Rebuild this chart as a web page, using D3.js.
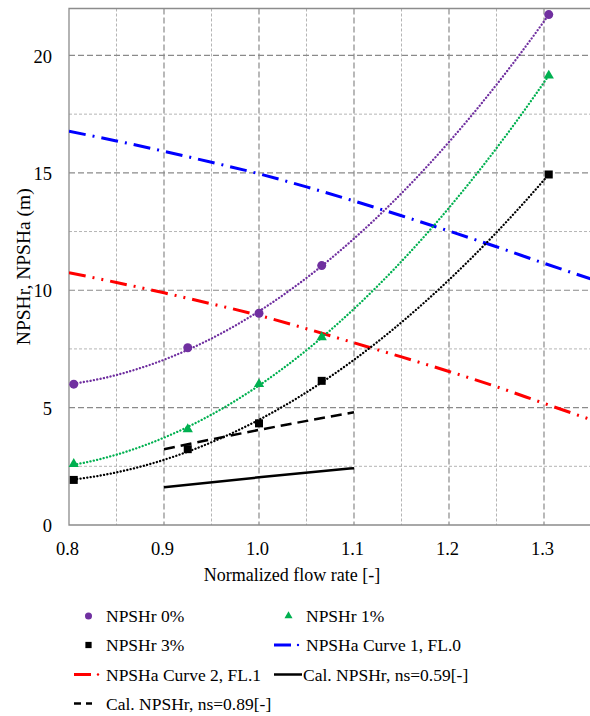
<!DOCTYPE html>
<html>
<head>
<meta charset="utf-8">
<script src="https://cdn.jsdelivr.net/npm/d3@7"></script>
<style>
  body { margin: 0; background: #fff; }
  svg { display: block; }
  text { font-family: "Liberation Serif", "Times New Roman", serif; fill: #000; }
</style>
</head>
<body>
<svg id="chart" width="590" height="716"></svg>
<script>
// Measured NPSH required at the test flow rates (normalized by BEP flow)
const flowRate = [0.805, 0.925, 1.0, 1.066, 1.305];
const npshr0 = [6.0, 7.55, 9.02, 11.05, 21.74];
const npshr1 = [2.6, 4.08, 6.0, 8.0, 19.14];
const npshr3 = [1.92, 3.23, 4.33, 6.14, 14.93];

// Available NPSH of the two installation curves
const npshaFlow = [0.8, 0.85, 0.9, 0.95, 1.0, 1.05, 1.1, 1.15, 1.2, 1.25, 1.3, 1.35];
const npshaCurve1 = [16.77, 16.36, 15.92, 15.45, 14.96, 14.40, 13.80, 13.17, 12.52, 11.85, 11.15, 10.47];
const npshaCurve2 = [10.75, 10.33, 9.89, 9.42, 8.93, 8.36, 7.76, 7.16, 6.54, 5.89, 5.18, 4.48];

// Calculated NPSHr for two specific speeds
const calFlow = [0.9, 1.0, 1.1];
const calNs059 = [1.61, 2.03, 2.42];
const calNs089 = [3.23, 4.05, 4.80];

const xTicks = [0.8, 0.9, 1.0, 1.1, 1.2, 1.3];
const xMinorGrid = [0.85, 0.95, 1.05, 1.15, 1.25];
const yTicks = [0, 5, 10, 15, 20];
const yMinorGrid = [2.5, 7.5, 12.5, 17.5];

const svg = d3.select("#chart");
const plotL = 69, plotR = 591.5, plotT = 8.5, plotB = 525;

const x = d3.scaleLinear().domain([0.8, 1.35]).range([plotL, plotR]);
const y = d3.scaleLinear().domain([0, 22]).range([plotB, plotT]);

// clip for the plotting area
svg.append("defs").append("clipPath").attr("id", "plotClip")
  .append("rect").attr("x", plotL).attr("y", plotT - 4)
  .attr("width", plotR - plotL).attr("height", plotB - plotT + 4);

// grid
const grid = svg.append("g");
grid.selectAll(".vminor").data(xMinorGrid).join("line")
  .attr("x1", d => x(d)).attr("x2", d => x(d)).attr("y1", plotT).attr("y2", plotB)
  .attr("stroke", "#b5b5b5").attr("stroke-width", 1).attr("stroke-dasharray", "3,2");
grid.selectAll(".hminor").data(yMinorGrid).join("line")
  .attr("y1", d => y(d)).attr("y2", d => y(d)).attr("x1", plotL).attr("x2", plotR)
  .attr("stroke", "#b5b5b5").attr("stroke-width", 1).attr("stroke-dasharray", "3,2");
grid.selectAll(".vmajor").data(xTicks.slice(1)).join("line")
  .attr("x1", d => x(d)).attr("x2", d => x(d)).attr("y1", plotT).attr("y2", plotB)
  .attr("stroke", "#8a8a8a").attr("stroke-width", 1.2).attr("stroke-dasharray", "6,3");
grid.selectAll(".hmajor").data(yTicks.slice(1)).join("line")
  .attr("y1", d => y(d)).attr("y2", d => y(d)).attr("x1", plotL).attr("x2", plotR)
  .attr("stroke", "#8a8a8a").attr("stroke-width", 1.2).attr("stroke-dasharray", "6,3");

// plot frame (left, top, bottom)
svg.append("path")
  .attr("d", `M${plotR},${plotT}H${plotL}V${plotB}H${plotR}`)
  .attr("fill", "none").attr("stroke", "#8c8c8c").attr("stroke-width", 1.3);

// axes
const xAxis = svg.append("g").attr("transform", `translate(0,${plotB})`)
  .call(d3.axisBottom(x).tickValues(xTicks).tickFormat(d3.format(".1f")).tickSize(0).tickPadding(0));
xAxis.select(".domain").remove();
xAxis.selectAll("text").attr("y", 30).attr("dy", 0).attr("x", -2)
  .style("font-size", "18.5px").style("font-family", '"Liberation Serif", serif');

const yAxis = svg.append("g").attr("transform", `translate(${plotL},0)`)
  .call(d3.axisLeft(y).tickValues(yTicks).tickSize(0).tickPadding(17));
yAxis.select(".domain").remove();
yAxis.selectAll("text").attr("dy", "0.36em")
  .style("font-size", "18.5px").style("font-family", '"Liberation Serif", serif');

// axis titles
svg.append("text").attr("x", 292).attr("y", 581).attr("text-anchor", "middle")
  .style("font-size", "18px").text("Normalized flow rate [-]");
svg.append("text").attr("transform", `translate(30,${(plotT + plotB) / 2}) rotate(-90)`)
  .attr("text-anchor", "middle").style("font-size", "19.5px").text("NPSHr, NPSHa (m)");

// quadratic least-squares trendline through measured points
function polyFit2(xs, ys) {
  const s = [0, 0, 0, 0, 0], t = [0, 0, 0];
  xs.forEach((xv, i) => {
    for (let k = 0; k < 5; k++) s[k] += Math.pow(xv, k);
    for (let k = 0; k < 3; k++) t[k] += Math.pow(xv, k) * ys[i];
  });
  const A = [[s[0], s[1], s[2], t[0]], [s[1], s[2], s[3], t[1]], [s[2], s[3], s[4], t[2]]];
  for (let i = 0; i < 3; i++) {
    for (let j = i + 1; j < 3; j++) {
      const f = A[j][i] / A[i][i];
      for (let k = i; k < 4; k++) A[j][k] -= f * A[i][k];
    }
  }
  const c = [0, 0, 0];
  for (let i = 2; i >= 0; i--) {
    let v = A[i][3];
    for (let k = i + 1; k < 3; k++) v -= A[i][k] * c[k];
    c[i] = v / A[i][i];
  }
  return q => c[0] + c[1] * q + c[2] * q * q;
}

const plot = svg.append("g").attr("clip-path", "url(#plotClip)");
const line = d3.line().x(d => x(d[0])).y(d => y(d[1]));
const smooth = d3.line().x(d => x(d[0])).y(d => y(d[1])).curve(d3.curveMonotoneX);

// NPSHa curves
plot.append("path").datum(npshaFlow.map((q, i) => [q, npshaCurve1[i]]))
  .attr("d", smooth).attr("fill", "none").attr("stroke", "#0000ff")
  .attr("stroke-width", 3).attr("stroke-dasharray", "17,7,2,7");
plot.append("path").datum(npshaFlow.map((q, i) => [q, npshaCurve2[i]]))
  .attr("d", smooth).attr("fill", "none").attr("stroke", "#ff0000")
  .attr("stroke-width", 3).attr("stroke-dasharray", "17,7,2,7,2,7");

// calculated NPSHr
plot.append("path").datum(calFlow.map((q, i) => [q, calNs089[i]]))
  .attr("d", smooth).attr("fill", "none").attr("stroke", "#000")
  .attr("stroke-width", 2.5).attr("stroke-dasharray", "11,6");
plot.append("path").datum(calFlow.map((q, i) => [q, calNs059[i]]))
  .attr("d", smooth).attr("fill", "none").attr("stroke", "#000")
  .attr("stroke-width", 2.5);

// measured series with dotted trendlines
const series = [
  { values: npshr0, color: "#7030a0", shape: "circle" },
  { values: npshr1, color: "#00b050", shape: "triangle" },
  { values: npshr3, color: "#000000", shape: "square" }
];
const qRange = d3.extent(flowRate);
const qSamples = d3.range(0, 101).map(i => qRange[0] + (qRange[1] - qRange[0]) * i / 100);

series.forEach(s => {
  const fit = polyFit2(flowRate, s.values);
  plot.append("path").datum(qSamples.map(q => [q, fit(q)]))
    .attr("d", line).attr("fill", "none").attr("stroke", s.color)
    .attr("stroke-width", 2.3).attr("stroke-linecap", "round").attr("stroke-dasharray", "0.1,3.3");
});

function marker(g, shape, color, cx, cy, scale) {
  if (shape === "circle") {
    g.append("circle").attr("cx", cx).attr("cy", cy).attr("r", 4.5 * scale).attr("fill", color);
  } else if (shape === "square") {
    const a = 8 * scale;
    g.append("rect").attr("x", cx - a / 2).attr("y", cy - a / 2).attr("width", a).attr("height", a).attr("fill", color);
  } else {
    g.append("path").attr("transform", `translate(${cx},${cy})`)
      .attr("d", d3.symbol(d3.symbolTriangle, 46 * scale * scale)()).attr("fill", color);
  }
}

const markers = svg.append("g");
series.forEach(s => {
  flowRate.forEach((q, i) => marker(markers, s.shape, s.color, x(q), y(s.values[i]), 1));
});

// legend
const legend = svg.append("g");
const rowY = [616, 645, 674.5, 703.5];
const legendItems = [
  { label: "NPSHr 0%", col: 0, row: 0, kind: "marker", shape: "circle", color: "#7030a0" },
  { label: "NPSHr 1%", col: 1, row: 0, kind: "marker", shape: "triangle", color: "#00b050" },
  { label: "NPSHr 3%", col: 0, row: 1, kind: "marker", shape: "square", color: "#000000" },
  { label: "NPSHa Curve 1, FL.0", col: 1, row: 1, kind: "dashdot", color: "#0000ff" },
  { label: "NPSHa Curve 2, FL.1", col: 0, row: 2, kind: "dashdot", color: "#ff0000" },
  { label: "Cal. NPSHr, ns=0.59[-]", col: 1, row: 2, kind: "solid", color: "#000000" },
  { label: "Cal. NPSHr, ns=0.89[-]", col: 0, row: 3, kind: "dash", color: "#000000" }
];
const colSym = [74, 274];
const colText = [106, 306];

legendItems.forEach(it => {
  const cy = rowY[it.row];
  const x0 = colSym[it.col];
  let tx = colText[it.col];
  if (it.kind === "marker") {
    marker(legend, it.shape, it.color, x0 + 14.5, cy, 0.78);
  } else if (it.kind === "dashdot") {
    legend.append("line").attr("x1", x0).attr("x2", x0 + 17).attr("y1", cy).attr("y2", cy)
      .attr("stroke", it.color).attr("stroke-width", 3);
    legend.append("circle").attr("cx", x0 + 24).attr("cy", cy).attr("r", 1.2).attr("fill", it.color);
  } else if (it.kind === "solid") {
    legend.append("line").attr("x1", x0).attr("x2", x0 + 28).attr("y1", cy).attr("y2", cy)
      .attr("stroke", it.color).attr("stroke-width", 2.5);
    tx = x0 + 29;
  } else {
    legend.append("line").attr("x1", x0).attr("x2", x0 + 18).attr("y1", cy).attr("y2", cy)
      .attr("stroke", it.color).attr("stroke-width", 2.5).attr("stroke-dasharray", "7,5");
  }
  legend.append("text").attr("x", tx).attr("y", cy + 6.2)
    .style("font-size", "17.5px").text(it.label);
});
</script>
</body>
</html>
